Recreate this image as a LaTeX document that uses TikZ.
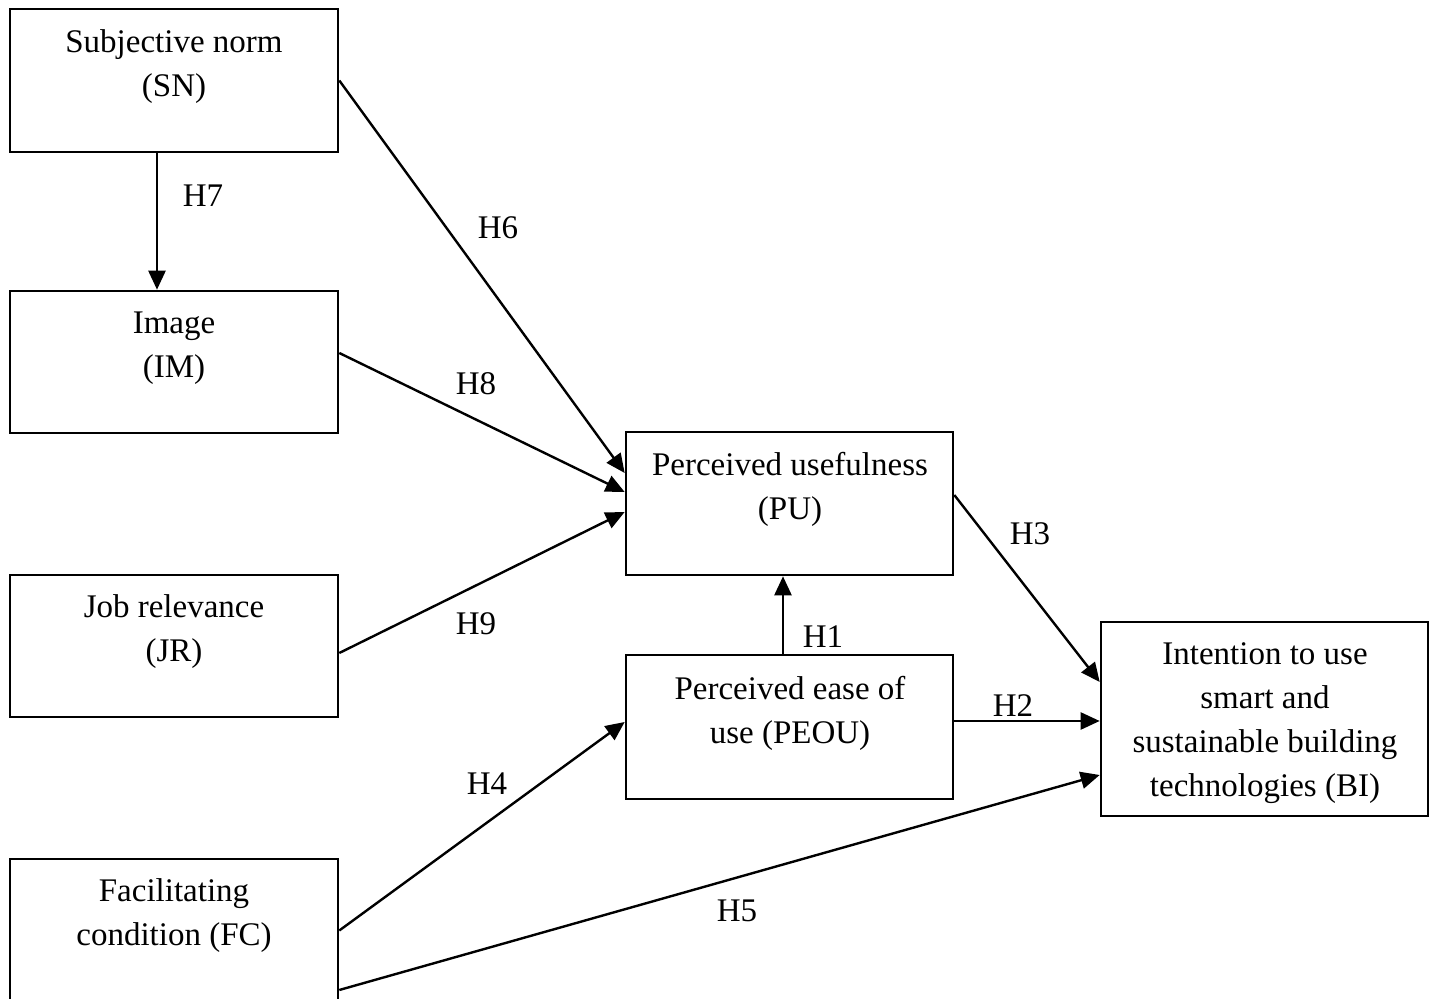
\documentclass[tikz,border=0pt]{standalone}
\usepackage{fontspec}
\setmainfont{Liberation Serif}
\usetikzlibrary{arrows.meta,calc}
\begin{document}
\begin{tikzpicture}[x=0.5pt,y=-0.5pt,
  box/.style={draw=black,line width=1.3pt,rectangle,inner sep=0pt,minimum width=164pt},
  txt/.style={align=center,inner sep=0pt,font=\fontsize{16.5}{22}\selectfont},
  lbl/.style={inner sep=0pt,font=\fontsize{16.5}{22}\selectfont},
  arr/.style={line width=1.2pt,-{Triangle[length=9.5pt,width=8.5pt]}}]
\useasboundingbox (0,0) rectangle (1432,999);
\clip (0,0) rectangle (1432,999);
% boxes
\node[box,minimum height=71.5pt] (sn) at (174,80.5) {};
\node[box,minimum height=71pt] (im) at (174,362) {};
\node[box,minimum height=71pt] (jr) at (174,646) {};
\node[box,minimum height=71.5pt] (fc) at (174,930.5) {};
\node[box,minimum width=163.5pt,minimum height=71.5pt] (pu) at (789.5,503.5) {};
\node[box,minimum width=163.5pt,minimum height=72pt] (peou) at (789.5,727) {};
\node[box,minimum width=163.5pt,minimum height=97pt] (bi) at (1264.5,719) {};
% texts
\node[txt] (snt) at (174,67) {Subjective norm\\(SN)};
\node[txt] (imt) at (174,348) {Image\\(IM)};
\node[txt] (jrt) at (174,632) {Job relevance\\(JR)};
\node[txt] (fct) at (174,916) {Facilitating\\condition (FC)};
\node[txt] (put) at (790,489.5) {Perceived usefulness\\(PU)};
\node[txt] (peout) at (790,713.5) {Perceived ease of\\use (PEOU)};
\node[txt] (bit) at (1265,723) {Intention to use\\smart and\\sustainable building\\technologies (BI)};
% connectors
\draw[arr] ([xshift=-8.5pt]sn.south) -- ([xshift=-8.5pt]im.north);
\draw[arr] (sn.east) -- ([yshift=15.25pt]pu.west);
\draw[arr] ([yshift=4.5pt]im.east) -- ([yshift=5.75pt]pu.west);
\draw[arr] ([yshift=-3.5pt]jr.east) -- ([yshift=-4.25pt]pu.west);
\draw[arr] ([xshift=-3.25pt]peou.north) -- ([xshift=-3.25pt]pu.south);
\draw[arr] ([yshift=4.25pt]pu.east) -- ([yshift=18.5pt]bi.west);
\draw[arr] ([yshift=3pt]peou.east) -- ([yshift=-1pt]bi.west);
\draw[arr] (fc.east) -- ([yshift=2.5pt]peou.west);
\draw[arr] ([yshift=-29.75pt]fc.east) -- ([yshift=-28pt]bi.west);
% labels
\node[lbl] (h7) at (203,196) {H7};
\node[lbl] (h6) at (498,228) {H6};
\node[lbl] (h8) at (476,384) {H8};
\node[lbl] (h9) at (476,624) {H9};
\node[lbl] (h1) at (823,637) {H1};
\node[lbl] (h3) at (1030,534) {H3};
\node[lbl] (h2) at (1013,706) {H2};
\node[lbl] (h4) at (487,784) {H4};
\node[lbl] (h5) at (737,911) {H5};
\end{tikzpicture}
\end{document}
